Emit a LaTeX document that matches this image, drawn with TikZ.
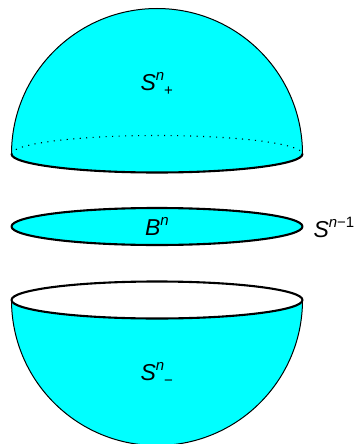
\documentclass[tikz,border=0pt]{standalone}
\usepackage{fontspec}
\setmainfont{Liberation Sans}
\definecolor{aquafill}{RGB}{0,255,255}
\newcommand{\bigit}[1]{{\fontsize{23}{23}\selectfont\itshape #1}}
\newcommand{\supn}[1]{\raisebox{10.5pt}{\fontsize{15}{15}\selectfont #1}}
\newcommand{\subm}[1]{\raisebox{-5pt}{\fontsize{15}{15}\selectfont #1}}
\tikzset{
 x=1pt,y=1pt,
 rim/.style={line width=2.1pt,line cap=round,line join=round},
 outline/.style={line width=1pt},
 dots/.style={line width=1.1pt,dash pattern=on 1.1pt off 5.4pt},
 txt/.style={inner sep=0pt,outer sep=0pt,anchor=base west},
}
\begin{document}
\begin{tikzpicture}
\useasboundingbox (0,-444) rectangle (356,0);
\clip (0,-444) rectangle (356,0);
% upper hemisphere
\fill[aquafill] (11.5,-154) arc[x radius=145.5,y radius=145.5,start angle=180,end angle=0] arc[x radius=145.5,y radius=18.5,start angle=0,end angle=-180] -- cycle;
\draw[outline] (11.5,-154) arc[x radius=145.5,y radius=145.5,start angle=180,end angle=0];
\draw[dots] (11.5,-154) arc[x radius=145.5,y radius=18.5,start angle=180,end angle=0];
\draw[rim] (11.5,-154) arc[x radius=145.5,y radius=18.5,start angle=180,end angle=360];
% disc
\draw[rim,fill=aquafill] (157,-226.5) ellipse[x radius=145.5,y radius=18.5];
% lower hemisphere
\fill[aquafill] (11.5,-300) arc[x radius=145.5,y radius=145.5,start angle=180,end angle=360] arc[x radius=145.5,y radius=18.5,start angle=0,end angle=-180] -- cycle;
\draw[outline] (11.5,-300) arc[x radius=145.5,y radius=145.5,start angle=180,end angle=360];
\draw[rim,fill=white] (157,-300) ellipse[x radius=145.5,y radius=18.5];
% labels
\node[txt] (splus) at (140.5,-90.5) {\bigit{S}\supn{\itshape n}\subm{+}};
\node[txt] (bdisc) at (145,-235.5) {\bigit{B}\supn{\itshape n}};
\node[txt] (sboundary) at (313.5,-237.5) {\bigit{S}\supn{{\itshape n}−1}};
\node[txt] (sminus) at (140.5,-380.5) {\bigit{S}\supn{\itshape n}\subm{−}};
\end{tikzpicture}
\end{document}
